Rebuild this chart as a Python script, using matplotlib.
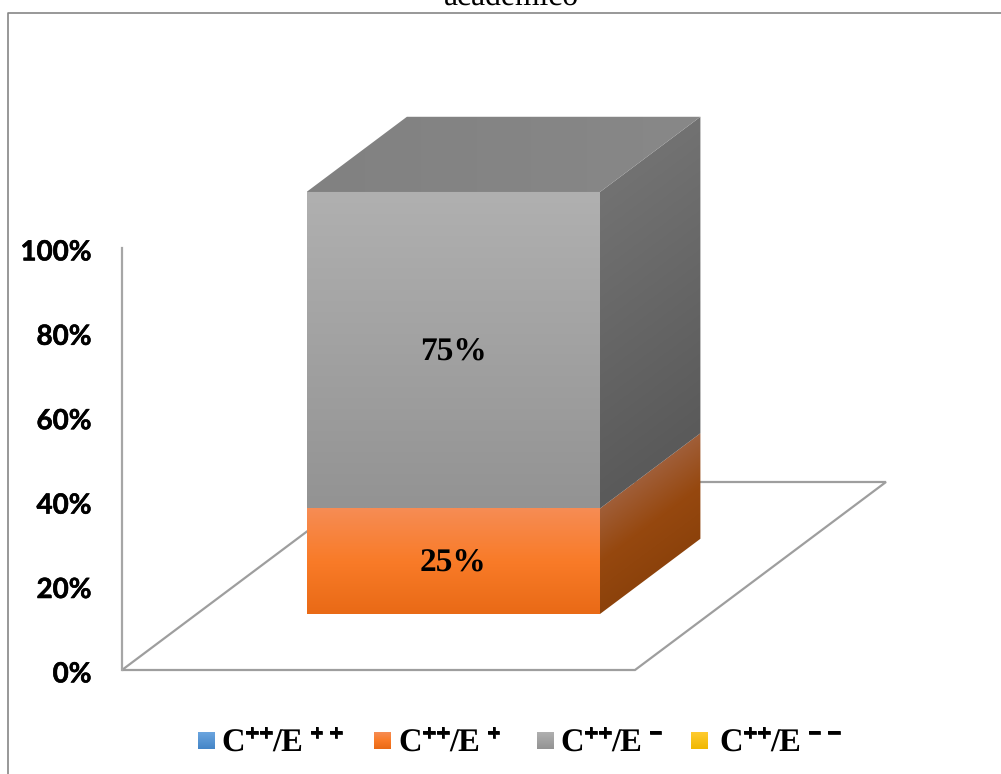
# Stacked 3D-look column: share of students per C/E group
import numpy as np
import matplotlib
matplotlib.use("Agg")
import matplotlib.pyplot as plt
import matplotlib.patheffects as pe
from matplotlib.patches import Polygon
from matplotlib.colors import LinearSegmentedColormap
from matplotlib.transforms import ScaledTranslation

plt.rcParams["text.hinting"] = "no_hinting"

# Data
group_marks = ["+ +", "+", "\u2212", "\u2212 \u2212"]
group_base = "C"
group_sup = "+"
group_mid = "/E"
shares = [0, 25, 75, 0]
y_ticks = [0, 20, 40, 60, 80, 100]
y_tick_labels = ["0%", "20%", "40%", "60%", "80%", "100%"]
title_tail = "académico"

# Colour stops for each group: front face top to bottom, then side face
front_stops = [["#6BA5DF", "#4485C7"],
               ["#F68C54", "#F97B28", "#E96A16"],
               ["#B0B0B0", "#939393"],
               ["#FFCB30", "#F0B800"]]
side_stops = [["#2F5F8F", "#234A70"],
              ["#A05E38", "#96480F", "#8C420B"],
              ["#727272", "#5A5A5A"],
              ["#A07800", "#806000"]]
top_stops = ["#818181", "#888888"]

W, H = 1001, 774
fig = plt.figure(figsize=(W / 100, H / 100), dpi=100)

# Main axes: x is the fraction of the floor width, y is the percent scale
x_left, x_right = 122, 635
y_zero, y_hundred = 670, 248
px_x = x_right - x_left
px_pct = (y_zero - y_hundred) / 100
ax = fig.add_axes([0, 0, 1, 1])
ax.patch.set_visible(False)
xlim = (-x_left / px_x, (W - x_left) / px_x)
ylim = ((y_zero - H) / px_pct, y_zero / px_pct)

# Oblique projection of the floor depth
depth_x = 251 / px_x
depth_y = 188 / px_pct


def project(x, value, depth):
    return (x + depth * depth_x, value + depth * depth_y)


def fill_face(corners, stops, mode="vertical"):
    # Paint a gradient and clip it to the face outline
    corners = np.array(corners)
    cmap = LinearSegmentedColormap.from_list("face", stops)
    x0, x1 = corners[:, 0].min(), corners[:, 0].max()
    y0, y1 = corners[:, 1].min(), corners[:, 1].max()
    v, u = np.mgrid[0:1:128j, 0:1:128j]
    if mode == "sheared":
        # follows the slope of the side face
        skew = (corners[2, 1] - corners[3, 1]) / (y1 - y0)
        t = np.clip((v - skew * (1 - u)) / (1 - skew), 0, 1)
    elif mode == "horizontal":
        t = u
    else:
        t = v
    img = ax.imshow(t, cmap=cmap, vmin=0, vmax=1, aspect="auto", origin="upper",
                    interpolation="bilinear", zorder=3, extent=(x0, x1, y0, y1))
    img.set_clip_path(Polygon(corners, closed=True, transform=ax.transData))


# Floor outline
floor = [project(0, 0, 0), project(1, 0, 0), project(1, 0, 1), project(0, 0, 1)]
ax.add_patch(Polygon(floor, closed=True, fill=False, edgecolor="#9E9E9E",
                     linewidth=1.6, zorder=2))

# Column position on the floor
d_front, d_back = 0.298, 0.698
bar_x0 = (306.5 - x_left - d_front * 251) / px_x
bar_x1 = bar_x0 + 293.5 / px_x

bottom = 0
for share, front, side in zip(shares, front_stops, side_stops):
    if share == 0:
        continue
    top = bottom + share
    fill_face([project(bar_x0, bottom, d_front), project(bar_x1, bottom, d_front),
               project(bar_x1, top, d_front), project(bar_x0, top, d_front)], front)
    fill_face([project(bar_x1, bottom, d_front), project(bar_x1, bottom, d_back),
               project(bar_x1, top, d_back), project(bar_x1, top, d_front)], side, "sheared")
    center = project((bar_x0 + bar_x1) / 2, bottom + share / 2, d_front)
    ax.annotate(f"{share}%", center, xytext=(0, -1.6), textcoords="offset points",
                ha="center", va="center", zorder=5, color="black",
                family="Liberation Serif", weight="bold", fontsize=24)
    bottom = top

fill_face([project(bar_x0, bottom, d_front), project(bar_x1, bottom, d_front),
           project(bar_x1, bottom, d_back), project(bar_x0, bottom, d_back)],
          top_stops, "horizontal")

# Value axis on the left wall
ax.set_xlim(xlim)
ax.set_ylim(ylim)
for name in ["top", "right", "bottom"]:
    ax.spines[name].set_visible(False)
ax.spines["left"].set_position(("data", 0))
ax.spines["left"].set_bounds(0, 100)
ax.spines["left"].set_color("#A6A6A6")
ax.spines["left"].set_linewidth(1.6)
ax.set_xticks([])
ax.set_yticks(y_ticks)
ax.set_yticklabels(y_tick_labels, family="Lato", weight="bold", fontsize=20, color="black")
ax.tick_params(axis="y", length=0, pad=22)
for lab in ax.get_yticklabels():
    lab.set_transform(lab.get_transform() + ScaledTranslation(0, -2 / 100, fig.dpi_scale_trans))
    lab.set_path_effects([pe.withStroke(linewidth=0.4, foreground="black")])

# Overlay in pixel units for the frame, title and legend
over = fig.add_axes([0, 0, 1, 1])
over.set_xlim(0, W)
over.set_ylim(H, 0)
over.axis("off")
over.plot([7.5, 7.5, W], [H, 12.5, 12.5], color="#868686", linewidth=1.2)
over.text(511, 5, title_tail, ha="center", va="baseline", family="Liberation Serif",
          fontsize=22.8, color="black", clip_on=False)

renderer = fig.canvas.get_renderer()


def put_piece(x, string, sup, gap):
    # Write one run of the legend label and return where the next one starts
    if sup:
        t = over.text(x, 734, string, ha="left", va="center", family="Liberation Sans",
                      weight="bold", fontsize=16, color="black")
        t.set_path_effects([pe.withStroke(linewidth=0.5, foreground="black")])
    else:
        t = over.text(x, 752, string, ha="left", va="baseline", family="Liberation Serif",
                      weight="bold", fontsize=23.5, color="black")
    return x + t.get_window_extent(renderer).width + gap


swatch_x = [198, 374, 537, 691]
text_x = [221, 398, 560, 719]
for mark, front, sx, tx in zip(group_marks, front_stops, swatch_x, text_x):
    cmap = LinearSegmentedColormap.from_list("swatch", front)
    grad = np.linspace(0, 1, 64).reshape(-1, 1)
    over.imshow(grad, cmap=cmap, aspect="auto", extent=(sx, sx + 17, 749, 732))
    nx = put_piece(tx, group_base, False, 1)
    nx = put_piece(nx, group_sup, True, 1)
    nx = put_piece(nx, group_sup, True, 0)
    nx = put_piece(nx, group_mid, False, 7)
    put_piece(nx, mark, True, 0)
over.set_xlim(0, W)
over.set_ylim(H, 0)

fig.savefig("out.png", dpi=100, facecolor="white")
